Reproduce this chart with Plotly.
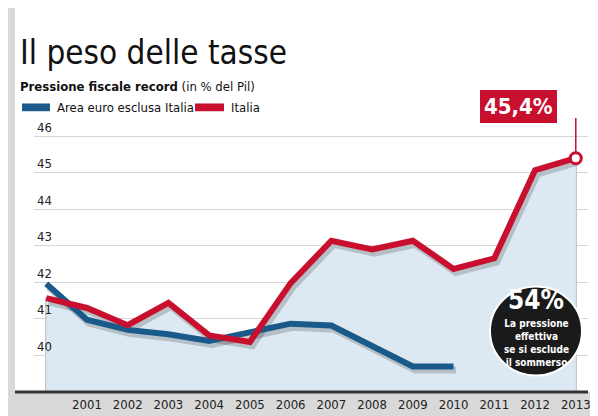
import plotly.graph_objects as go

years = list(range(2000, 2014))
italia = [41.57, 41.3, 40.83, 41.44, 40.55, 40.37, 41.98, 43.14, 42.9, 43.14, 42.37, 42.66, 45.07, 45.4]
area_euro_years = list(range(2000, 2011))
area_euro = [41.96, 40.98, 40.7, 40.58, 40.4, 40.63, 40.87, 40.82, 40.27, 39.7, 39.7]
ytick_vals = [40, 41, 42, 43, 44, 45, 46]

W, H = 598, 416
L, R, T, B = 26, 18, 110, 23
X0, X1 = 1999.7, 2013.3
Y0, Y1 = 39.0, 46.5
FONT = "DejaVu Sans Condensed, Liberation Sans Narrow, Roboto"

def fx(p):
    return X0 + (p - L) / (W - L - R) * (X1 - X0)

def fy(p):
    return Y1 - (p - T) / (H - T - B) * (Y1 - Y0)

def pxp(p):
    return (p - L) / (W - L - R)

def pyp(p):
    return (H - B - p) / (H - T - B)

fig = go.Figure()
fig.add_trace(go.Scatter(x=years, y=italia, fill="tozeroy", fillcolor="#dde9f2",
                         line=dict(width=0), mode="lines", hoverinfo="skip"))
fig.add_trace(go.Bar(x=years, y=[v - Y0 for v in italia], base=Y0, width=0.06,
                     marker=dict(color="#c4c8cc", line=dict(width=0)), hoverinfo="skip"))
fig.add_trace(go.Scatter(x=[x + 0.06 for x in area_euro_years], y=[v - 0.1 for v in area_euro],
                         mode="lines", line=dict(color="rgba(0,0,0,0.18)", width=7)))
fig.add_trace(go.Scatter(x=[x + 0.06 for x in years], y=[v - 0.1 for v in italia],
                         mode="lines", line=dict(color="rgba(0,0,0,0.18)", width=7)))
fig.add_trace(go.Scatter(x=area_euro_years, y=area_euro, mode="lines",
                         line=dict(color="#1a5a8a", width=6)))
fig.add_trace(go.Scatter(x=years, y=italia, mode="lines",
                         line=dict(color="#c8102e", width=6)))
fig.add_trace(go.Scatter(x=[years[-1]], y=[italia[-1]], mode="markers",
                         marker=dict(color="white", size=11, line=dict(color="#c8102e", width=3))))

shapes = []
# white inner panel on gray paper
shapes.append(dict(type="rect", xref="paper", yref="paper", x0=pxp(7), x1=pxp(586),
                   y0=0, y1=pyp(-5), fillcolor="white", line=dict(width=0), layer="below"))
shapes.append(dict(type="line", xref="paper", yref="paper", x0=pxp(7), x1=1.0, y0=0, y1=0,
                   line=dict(color="#333", width=3)))
# connector for 45,4% label
shapes.append(dict(type="line", xref="x", yref="y", x0=2013, x1=2013, y0=45.4 + 0.12,
                   y1=fy(98), line=dict(color="#c8102e", width=1.5)))
shapes.append(dict(type="line", xref="x", yref="y", x0=fx(548), x1=2013, y0=fy(98), y1=fy(98),
                   line=dict(color="#c8102e", width=1.5)))
# black circle
ccx, ccy, rpx = 528, 330, 46
shapes.append(dict(type="circle", xref="x", yref="y", x0=fx(ccx - rpx), x1=fx(ccx + rpx),
                   y0=fy(ccy + rpx), y1=fy(ccy - rpx), fillcolor="#1a1a1a",
                   line=dict(color="white", width=2)))
# legend swatches
for a, b, col in [(14, 42, "#1a5a8a"), (187, 216, "#c8102e")]:
    shapes.append(dict(type="rect", xref="paper", yref="paper", x0=pxp(a), x1=pxp(b),
                       y0=pyp(103), y1=pyp(95), fillcolor=col, line=dict(width=0)))

ann = [
    dict(text="Il peso delle tasse", x=pxp(10), y=pyp(42), xanchor="left", yanchor="middle",
         font=dict(size=33, color="#111", family=FONT)),
    dict(text="<b>Pressione fiscale record</b> (in % del Pil)", x=pxp(10), y=pyp(77),
         xanchor="left", yanchor="middle", font=dict(size=13, color="#111", family=FONT)),
    dict(text="Area euro esclusa Italia", x=pxp(47), y=pyp(99), xanchor="left", yanchor="middle",
         font=dict(size=13, color="#111", family=FONT)),
    dict(text="Italia", x=pxp(221), y=pyp(99), xanchor="left", yanchor="middle",
         font=dict(size=13, color="#111", family=FONT)),
    dict(text="<b>45,4%</b>", x=pxp(510), y=pyp(98), xanchor="center", yanchor="middle",
         bgcolor="#c8102e", bordercolor="#ffffff", borderwidth=2, borderpad=4,
         font=dict(size=22, color="white", family=FONT)),
    dict(text="<b>54%</b>", x=pxp(528), y=pyp(298), xanchor="center", yanchor="middle",
         font=dict(size=26, color="white", family=FONT)),
    dict(text="<b>La pressione<br>effettiva<br>se si esclude<br>il sommerso</b>", x=pxp(528), y=pyp(342),
         xanchor="center", yanchor="middle",
         font=dict(size=10, color="white", family=FONT)),
]
for a in ann:
    a.update(xref="paper", yref="paper", showarrow=False)

fig.update_layout(
    width=W, height=H, margin=dict(l=L, r=R, t=T, b=B),
    paper_bgcolor="#d9d9d9", plot_bgcolor="rgba(0,0,0,0)", showlegend=False, bargap=0,
    shapes=shapes, annotations=ann,
    xaxis=dict(range=[X0, X1], tickvals=years, ticktext=[str(y) for y in years],
               showgrid=False, zeroline=False, ticks="", ticklabelstandoff=3,
               ticklabeloverflow="allow",
               tickfont=dict(size=13, color="#222", family=FONT)),
    yaxis=dict(range=[Y0, Y1], tickvals=ytick_vals, showgrid=True, gridcolor="#d6d6d6",
               gridwidth=1, zeroline=False, ticks="", ticklabelposition="inside top",
               tickfont=dict(size=13, color="#222", family=FONT)),
)
fig.write_html("out.html")
